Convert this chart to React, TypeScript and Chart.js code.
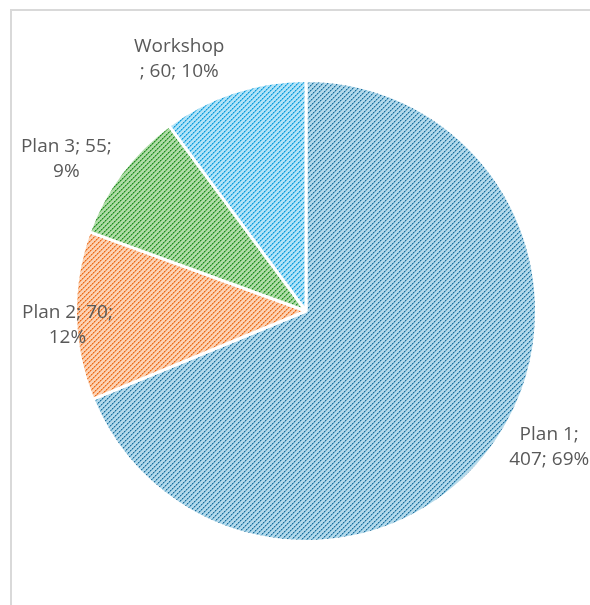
import React, { useEffect, useRef } from "react";
import { Chart, registerables } from "chart.js";

Chart.register(...registerables);

const categories = ["Plan 1", "Plan 2", "Plan 3", "Workshop"];
const values = [407, 70, 55, 60];
// character index where each data label wraps onto its second line
const labelBreaks = [7, 11, 11, 8];

const palettes = [
  { base: "#b4d9ea", mid: "#6fb0d0", dark: "#1f6b98" },
  { base: "#fcd2b4", mid: "#f5a066", dark: "#e8691a" },
  { base: "#b0dca8", mid: "#6abc60", dark: "#23832f" },
  { base: "#b3e3f7", mid: "#5cc3ee", dark: "#1496d3" },
];

function makePattern(p: { base: string; mid: string; dark: string }) {
  const n = 20;
  const c = document.createElement("canvas");
  c.width = n;
  c.height = n;
  const g = c.getContext("2d")!;
  g.fillStyle = p.base;
  g.fillRect(0, 0, n, n);
  for (let x = 0; x < n; x++) {
    for (let y = 0; y < n; y++) {
      const k = (x + y) % 5;
      if (k === 0 || k === 1) {
        const m = (((x - y) % 4) + 4) % 4;
        g.fillStyle = m < 2 && k === 0 ? p.dark : p.mid;
        g.fillRect(x, y, 1, 1);
      }
    }
  }
  return g.createPattern(c, "repeat")!;
}

const labelPlugin = {
  id: "outsideLabels",
  afterDatasetsDraw(chart: any, _args: any, opts: any) {
    const ctx = chart.ctx;
    const meta = chart.getDatasetMeta(0);
    const data = chart.data.datasets[0].data as number[];
    const total = data.reduce((a, b) => a + b, 0);
    ctx.save();
    ctx.font = "19px 'Open Sans'";
    ctx.fillStyle = "#595959";
    ctx.textAlign = "center";
    ctx.textBaseline = "middle";
    meta.data.forEach((arc: any, i: number) => {
      const name = chart.data.labels[i];
      const v = data[i];
      const pct = Math.round((v / total) * 100);
      const full = `${name}; ${v}; ${pct}%`;
      const b = labelBreaks[i];
      const lines = [full.slice(0, b).trim(), full.slice(b).trim()];
      const mid = (arc.startAngle + arc.endAngle) / 2;
      const d = arc.outerRadius + opts.distance;
      let cx = arc.x + Math.cos(mid) * d;
      let cy = arc.y + Math.sin(mid) * d;
      const w = Math.max(...lines.map((l) => ctx.measureText(l).width));
      if (cx - w / 2 < opts.minX) cx = opts.minX + w / 2;
      if (cx + w / 2 > chart.width) cx = chart.width - w / 2;
      const nudge = opts.nudges[i];
      cx += nudge[0];
      cy += nudge[1];
      const lh = opts.lineHeight;
      lines.forEach((l, j) => {
        ctx.fillText(l, cx, cy + (j - (lines.length - 1) / 2) * lh);
      });
    });
    ctx.restore();
  },
};

export default function App() {
  const ref = useRef<HTMLCanvasElement>(null);
  useEffect(() => {
    const chart = new Chart(ref.current!, {
      type: "pie",
      data: {
        labels: categories,
        datasets: [
          {
            data: values,
            backgroundColor: palettes.map(makePattern),
            borderColor: "#ffffff",
            borderWidth: 3,
          },
        ],
      },
      options: {
        responsive: false,
        animation: false,
        layout: { padding: { left: 74, right: 52, top: 79, bottom: 62 } },
        plugins: {
          legend: { display: false },
          tooltip: { enabled: false },
          outsideLabels: {
            distance: 50,
            minX: 22,
            lineHeight: 25,
            nudges: [
              [10, -20],
              [0, 8],
              [-15, 16],
              [-39, 14],
            ],
          },
        } as any,
      },
      plugins: [labelPlugin],
    });
    return () => chart.destroy();
  }, []);
  return (
    <div style={{ position: "absolute", left: 0, top: 0, width: 590, height: 605, overflow: "hidden", background: "#fff" }}>
      <div
        style={{
          position: "absolute",
          left: 10,
          top: 9,
          width: 620,
          height: 640,
          border: "2px solid #d9d9d9",
        }}
      />
      <canvas ref={ref} width={590} height={605} style={{ position: "absolute", left: 0, top: 0 }} />
    </div>
  );
}
